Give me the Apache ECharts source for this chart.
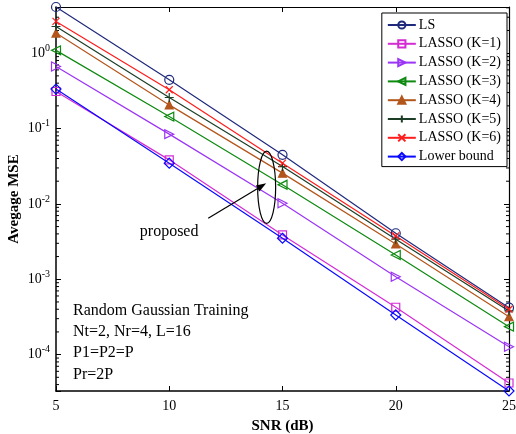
<!DOCTYPE html>
<html>
<head>
<meta charset="utf-8">
<script src="https://cdn.jsdelivr.net/npm/echarts@6/dist/echarts.min.js"></script>
<style>
  html, body { margin: 0; padding: 0; background: #fff; }
  #chart { width: 516px; height: 434px; }
</style>
</head>
<body>
<div id="chart"></div>
<script>
const serif = '"Liberation Serif", "Times New Roman", serif'

// SNR (dB) and average MSE per method
const snr = [5, 10, 15, 20, 25]
const ls = [4.1, 0.443, 0.0448, 0.00408, 0.00042]
const lassoK1 = [0.31, 0.0384, 0.00387, 0.000425, 0.000042]
const lassoK2 = [0.666, 0.0843, 0.0102, 0.00108, 0.000127]
const lassoK3 = [1.09, 0.144, 0.0179, 0.0021, 0.000235]
const lassoK4 = [1.85, 0.206, 0.0256, 0.00294, 0.000318]
const lassoK5 = [2.26, 0.258, 0.0313, 0.0034, 0.00038]
const lassoK6 = [2.64, 0.327, 0.0347, 0.00376, 0.0004]
const lowerBound = [0.334, 0.0347, 0.0035, 0.000336, 0.0000329]

const names = ['LS', 'LASSO (K=1)', 'LASSO (K=2)', 'LASSO (K=3)', 'LASSO (K=4)', 'LASSO (K=5)', 'LASSO (K=6)', 'Lower bound']
const xTicks = [5, 10, 15, 20, 25]
const infoLines = ['Random Gaussian Training', 'Nt=2, Nr=4, L=16', 'P1=P2=P', 'Pr=2P']

// axis is tight around the data, like the original
const yMin = lowerBound[lowerBound.length - 1]
const yMax = ls[0]

const plusPath = 'path://M5,0L5,10M0,5L10,5'
const crossPath = 'path://M0,0L10,10M10,0L0,10'

function pairs(ys) {
  return snr.map((x, i) => [x, ys[i]])
}

function lineSeries(name, ys, color, symbol, opts = {}) {
  return {
    name,
    type: 'line',
    data: pairs(ys),
    symbol,
    symbolSize: opts.size || 9,
    symbolRotate: opts.rotate || 0,
    showAllSymbol: true,
    lineStyle: { color, width: 1.2 },
    itemStyle: { color: opts.filled ? color : 'none', borderColor: color, borderWidth: 1.2 },
    emphasis: { disabled: true },
    z: opts.z || 2,
  }
}

// minor ticks at 2..9 x 10^k, left and right frame
const minorTicks = []
for (let k = -5; k <= 0; k++) {
  for (let m = 2; m <= 9; m++) {
    const v = m * Math.pow(10, k)
    if (v > yMin && v < yMax) minorTicks.push([v])
  }
}

function yLabel(v) {
  const lg = Math.log10(v)
  const e = Math.round(lg)
  if (Math.abs(lg - e) > 1e-6) return ''
  return '{b|10}{e|' + e + '}'
}

const chart = echarts.init(document.getElementById('chart'), null, { renderer: 'canvas' })

const option = {
  animation: false,
  backgroundColor: '#fff',
  grid: { left: 56, right: 7, top: 7, bottom: 43, outerBoundsMode: 'none', containLabel: false },
  legend: {
    data: names,
    orient: 'vertical',
    right: 9,
    top: 13,
    itemWidth: 28,
    itemHeight: 9,
    itemGap: 4.8,
    padding: [5, 6, 3, 5],
    backgroundColor: '#fff',
    borderColor: '#000',
    borderWidth: 1,
    textStyle: { fontFamily: serif, fontSize: 14, color: '#000', padding: [0, 0, 0, -2] },
  },
  xAxis: [
    {
      type: 'value',
      min: 5,
      max: 25,
      interval: 5,
      name: 'SNR (dB)',
      nameLocation: 'middle',
      nameGap: 28,
      nameTextStyle: { fontFamily: serif, fontSize: 15, fontWeight: 'bold', color: '#000' },
      axisLine: { lineStyle: { color: '#000', width: 1.5 } },
      axisTick: { inside: true, length: 5, lineStyle: { color: '#000' } },
      axisLabel: { fontFamily: serif, fontSize: 14, color: '#000', margin: 8,
        formatter: v => (xTicks.includes(v) ? String(v) : '') },
      splitLine: { show: false },
    },
    {
      type: 'value',
      position: 'top',
      min: 5,
      max: 25,
      interval: 5,
      axisLine: { lineStyle: { color: '#000', width: 1.2 } },
      axisTick: { inside: true, length: 5, lineStyle: { color: '#000' } },
      axisLabel: { show: false },
      splitLine: { show: false },
    },
  ],
  yAxis: [
    {
      type: 'log',
      logBase: 10,
      min: yMin,
      max: yMax,
      name: 'Avegage MSE',
      nameLocation: 'middle',
      nameGap: 34,
      nameMoveOverlap: false,
      nameTextStyle: { fontFamily: serif, fontSize: 15, fontWeight: 'bold', color: '#000' },
      axisLine: { lineStyle: { color: '#000', width: 1.5 } },
      axisTick: { inside: true, length: 5, lineStyle: { color: '#000' } },
      axisLabel: {
        formatter: yLabel,
        margin: 6,
        color: '#000',
        rich: {
          b: { fontFamily: serif, fontSize: 14, color: '#000' },
          e: { fontFamily: serif, fontSize: 10, color: '#000', padding: [0, 0, 10, 0] },
        },
      },
      splitLine: { show: false },
    },
    {
      type: 'log',
      logBase: 10,
      position: 'right',
      min: yMin,
      max: yMax,
      axisLine: { lineStyle: { color: '#000', width: 1.2 } },
      axisTick: { inside: true, length: 5, lineStyle: { color: '#000' } },
      axisLabel: { show: false },
      splitLine: { show: false },
    },
  ],
  series: [
    lineSeries('LS', ls, '#1f2a7c', 'circle'),
    lineSeries('LASSO (K=1)', lassoK1, '#d42cd4', 'rect', { size: 8 }),
    lineSeries('LASSO (K=2)', lassoK2, '#9b35f5', 'triangle', { rotate: -90 }),
    lineSeries('LASSO (K=3)', lassoK3, '#0e8a10', 'triangle', { rotate: 90 }),
    lineSeries('LASSO (K=4)', lassoK4, '#b3561c', 'triangle', { filled: true, size: 8 }),
    lineSeries('LASSO (K=5)', lassoK5, '#1c3e26', plusPath, { size: 9 }),
    lineSeries('LASSO (K=6)', lassoK6, '#ff1c1c', crossPath, { size: 7 }),
    lineSeries('Lower bound', lowerBound, '#0a0aff', 'diamond', { size: 10, z: 3 }),
    {
      name: 'minor',
      type: 'custom',
      data: minorTicks,
      silent: true,
      encode: { y: 0 },
      renderItem(params, api) {
        const v = api.value(0)
        const l = api.coord([5, v])
        const r = api.coord([25, v])
        const style = { stroke: '#000', lineWidth: 1 }
        return {
          type: 'group',
          children: [
            { type: 'line', shape: { x1: l[0], y1: l[1], x2: l[0] + 3, y2: l[1] }, style },
            { type: 'line', shape: { x1: r[0], y1: r[1], x2: r[0] - 3, y2: r[1] }, style },
          ],
        }
      },
    },
  ],
}

chart.setOption(option)

// annotation: ellipse around the LASSO points at 15 dB, arrow and label
const ellC = chart.convertToPixel({ gridIndex: 0 }, [14.3, 0.0166])
const ellTop = chart.convertToPixel({ gridIndex: 0 }, [14.3, 0.0500])
const arrTail = chart.convertToPixel({ gridIndex: 0 }, [11.72, 0.00646])
const arrHead = chart.convertToPixel({ gridIndex: 0 }, [14.28, 0.0188])
const labPos = chart.convertToPixel({ gridIndex: 0 }, [8.7, 0.0043])

const ang = Math.atan2(arrHead[1] - arrTail[1], arrHead[0] - arrTail[0])
const hl = 10, hw = 3.5
const bx = arrHead[0] - hl * Math.cos(ang), by = arrHead[1] - hl * Math.sin(ang)
const arrowPts = [
  arrHead,
  [bx + hw * Math.sin(ang), by - hw * Math.cos(ang)],
  [bx - hw * Math.sin(ang), by + hw * Math.cos(ang)],
]

chart.setOption({
  graphic: [
    { type: 'ellipse', shape: { cx: ellC[0], cy: ellC[1], rx: 9, ry: ellC[1] - ellTop[1] },
      style: { fill: 'none', stroke: '#000', lineWidth: 1.2 }, z: 10 },
    { type: 'line', shape: { x1: arrTail[0], y1: arrTail[1], x2: bx, y2: by },
      style: { stroke: '#000', lineWidth: 1.2 }, z: 10 },
    { type: 'polygon', shape: { points: arrowPts }, style: { fill: '#000' }, z: 10 },
    { type: 'text', x: labPos[0], y: labPos[1],
      style: { text: 'proposed', fontFamily: serif, fontSize: 16, fill: '#000', verticalAlign: 'middle' }, z: 10 },
    { type: 'text', left: 73, top: 300,
      style: { text: infoLines.join('\n'), fontFamily: serif, fontSize: 16, lineHeight: 21.3, fill: '#000' }, z: 10 },
  ],
})
</script>
</body>
</html>
